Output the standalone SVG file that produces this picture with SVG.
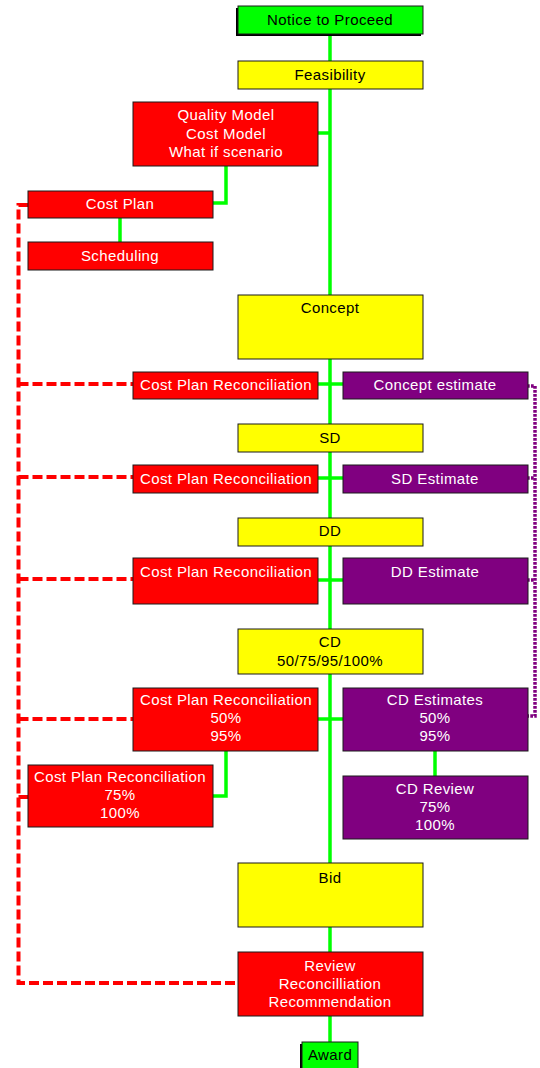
<svg xmlns="http://www.w3.org/2000/svg" width="540" height="1068" viewBox="0 0 540 1068">
<style>
.box{stroke:#1a1a1a;stroke-width:1}
.g{fill:#00FF00}.y{fill:#FFFF00}.r{fill:#FF0000}.p{fill:#800080}
.sh{fill:#000}
text{font-family:"Liberation Sans",Arial,sans-serif;font-size:15px;letter-spacing:0.4px;text-anchor:middle}
.dk{fill:#000}.wt{fill:#fff}
.gl{fill:none;stroke:#00FF00;stroke-width:3.5}
.rd{fill:none;stroke:#FF0000;stroke-width:4;stroke-dasharray:10 4}
.pd{fill:none;stroke:#800080;stroke-width:3.5;stroke-dasharray:2.7 1.3}
</style>
<rect width="540" height="1068" fill="#fff"/>
<g id="connectors">
<path class="gl" d="M330,34 V1042"/>
<path class="gl" d="M318,133 H330"/>
<path class="gl" d="M213,203 H226 V166"/>
<path class="gl" d="M120,218 V242"/>
<path class="gl" d="M318,384 H343"/>
<path class="gl" d="M318,478 H343"/>
<path class="gl" d="M318,580 H343"/>
<path class="gl" d="M318,719 H343"/>
<path class="gl" d="M226,751 V796 H213"/>
<path class="gl" d="M435,751 V776"/>
<path class="rd" d="M28,205 H18.5 V983 H238"/>
<path class="rd" d="M18.5,384 H133"/>
<path class="rd" d="M18.5,477 H133"/>
<path class="rd" d="M18.5,579 H133"/>
<path class="rd" d="M18.5,719 H133"/>
<path class="rd" d="M18.5,797 H28"/>
<path class="pd" d="M527,386 H535 V716 H527"/>
<path class="pd" d="M527,478 H535"/>
<path class="pd" d="M527,580 H535"/>
</g>
<g id="notice">
<rect class="sh" x="236" y="8" width="185" height="28"/>
<rect class="box g" x="238" y="6" width="185" height="28"/>
<text class="dk" x="330" y="25">Notice to Proceed</text>
</g>
<g id="feasibility">
<rect class="box y" x="238" y="61" width="185" height="28"/>
<text class="dk" x="330" y="80">Feasibility</text>
</g>
<g id="quality">
<rect class="box r" x="133" y="102" width="185" height="64"/>
<text class="wt" x="226" y="120">Quality Model</text>
<text class="wt" x="226" y="139">Cost Model</text>
<text class="wt" x="226" y="157">What if scenario</text>
</g>
<g id="costplan">
<rect class="box r" x="28" y="191" width="185" height="27"/>
<text class="wt" x="120" y="209">Cost Plan</text>
</g>
<g id="scheduling">
<rect class="box r" x="28" y="242" width="185" height="28"/>
<text class="wt" x="120" y="261">Scheduling</text>
</g>
<g id="concept">
<rect class="box y" x="238" y="295" width="185" height="64"/>
<text class="dk" x="330" y="313">Concept</text>
</g>
<g id="cpr1">
<rect class="box r" x="133" y="372" width="185" height="27"/>
<text class="wt" x="226" y="390">Cost Plan Reconciliation</text>
</g>
<g id="concept-est">
<rect class="box p" x="343" y="372" width="185" height="27"/>
<text class="wt" x="435" y="390">Concept estimate</text>
</g>
<g id="sd">
<rect class="box y" x="238" y="424" width="185" height="28"/>
<text class="dk" x="330" y="443">SD</text>
</g>
<g id="cpr2">
<rect class="box r" x="133" y="465" width="185" height="28"/>
<text class="wt" x="226" y="484">Cost Plan Reconciliation</text>
</g>
<g id="sd-est">
<rect class="box p" x="343" y="465" width="185" height="28"/>
<text class="wt" x="435" y="484">SD Estimate</text>
</g>
<g id="dd">
<rect class="box y" x="238" y="518" width="185" height="28"/>
<text class="dk" x="330" y="536">DD</text>
</g>
<g id="cpr3">
<rect class="box r" x="133" y="558" width="185" height="46"/>
<text class="wt" x="226" y="577">Cost Plan Reconciliation</text>
</g>
<g id="dd-est">
<rect class="box p" x="343" y="558" width="185" height="46"/>
<text class="wt" x="435" y="577">DD Estimate</text>
</g>
<g id="cd">
<rect class="box y" x="238" y="629" width="185" height="45"/>
<text class="dk" x="330" y="647">CD</text>
<text class="dk" x="330" y="666">50/75/95/100%</text>
</g>
<g id="cpr4">
<rect class="box r" x="133" y="688" width="185" height="63"/>
<text class="wt" x="226" y="705">Cost Plan Reconciliation</text>
<text class="wt" x="226" y="723">50%</text>
<text class="wt" x="226" y="741">95%</text>
</g>
<g id="cd-est">
<rect class="box p" x="343" y="688" width="185" height="63"/>
<text class="wt" x="435" y="705">CD Estimates</text>
<text class="wt" x="435" y="723">50%</text>
<text class="wt" x="435" y="741">95%</text>
</g>
<g id="cpr5">
<rect class="box r" x="28" y="765" width="185" height="62"/>
<text class="wt" x="120" y="782">Cost Plan Reconciliation</text>
<text class="wt" x="120" y="800">75%</text>
<text class="wt" x="120" y="818">100%</text>
</g>
<g id="cd-review">
<rect class="box p" x="343" y="776" width="185" height="63"/>
<text class="wt" x="435" y="794">CD Review</text>
<text class="wt" x="435" y="812">75%</text>
<text class="wt" x="435" y="830">100%</text>
</g>
<g id="bid">
<rect class="box y" x="238" y="863" width="185" height="64"/>
<text class="dk" x="330" y="883">Bid</text>
</g>
<g id="review">
<rect class="box r" x="238" y="952" width="185" height="64"/>
<text class="wt" x="330" y="971">Review</text>
<text class="wt" x="330" y="989">Reconcilliation</text>
<text class="wt" x="330" y="1007">Recommendation</text>
</g>
<g id="award">
<rect class="sh" x="300" y="1044" width="56" height="27"/>
<rect class="box g" x="302" y="1042" width="56" height="27"/>
<text class="dk" x="330" y="1060">Award</text>
</g>
</svg>
